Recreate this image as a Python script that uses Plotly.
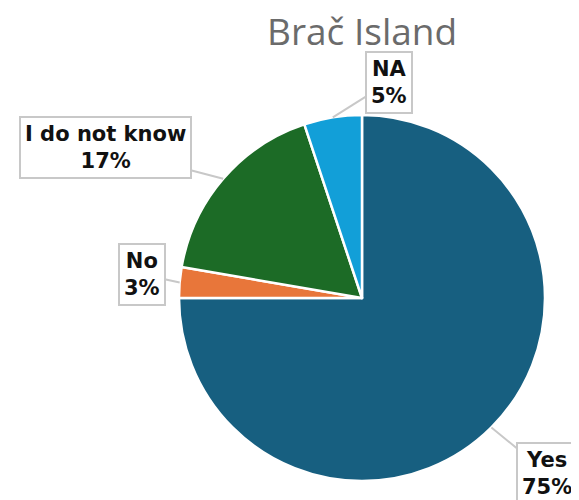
import math
import plotly.graph_objects as go

# data
labels = ["Yes", "No", "I do not know", "NA"]
values = [75.0, 2.7, 17.2, 5.1]
colors = ["#175f80", "#e8763a", "#1c6b26", "#129fd8"]
title_text = "Brač Island"

W, H = 579, 500
PAGE = 8  # default body margin of the html page

# pie centre / radius in page pixels
cx_pg, cy_pg, r = 362, 298, 183
cx = cx_pg - PAGE
cy = cy_pg - PAGE
dom_x = [(cx - r) / W, (cx + r) / W]
dom_y = [(H - cy - r) / H, (H - cy + r) / H]

# label box offsets (pixels from arrow tip)
offsets = {
    "Yes": (56, 46),
    "No": (-38, -8),
    "I do not know": (-118, -31),
    "NA": (56, -35),
}

fig = go.Figure(go.Pie(
    labels=labels,
    values=values,
    sort=False,
    direction="clockwise",
    rotation=0,
    marker=dict(colors=colors, line=dict(color="white", width=2.5)),
    textinfo="none",
    hoverinfo="label+percent",
    domain=dict(x=dom_x, y=dom_y),
    showlegend=False,
))

# callouts sit on the slice midpoints
total = sum(values)
cum = 0
for lab, val in zip(labels, values):
    mid = (cum + val / 2) / total * 2 * math.pi
    cum += val
    px_x = cx + r * math.sin(mid)
    px_y = cy - r * math.cos(mid)
    pct = round(val / total * 100)
    ax, ay = offsets[lab]
    fig.add_annotation(
        x=px_x / W, y=1 - px_y / H, xref="paper", yref="paper",
        text=f"<b>{lab}</b><br><b>{pct}%</b>",
        showarrow=True, arrowhead=0, arrowwidth=2, arrowcolor="#c8c8c8",
        ax=ax, ay=ay,
        bordercolor="#c8c8c8", borderwidth=2, borderpad=4, bgcolor="white",
        font=dict(family="DejaVu Sans", size=21, color="#111111"),
        align="center",
    )

# title, centred over the pie
fig.add_annotation(
    x=cx / W, y=1, xref="paper", yref="paper",
    xanchor="center", yanchor="top", yshift=5,
    text=title_text, showarrow=False,
    font=dict(family="Open Sans", size=37, color="#6b6b6b"),
)

fig.update_layout(
    width=W, height=H,
    margin=dict(l=0, r=0, t=0, b=0),
    paper_bgcolor="white",
    plot_bgcolor="white",
)

fig.write_html("out.html")
